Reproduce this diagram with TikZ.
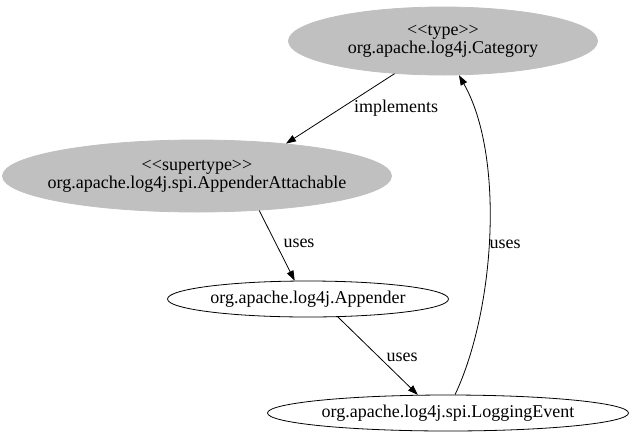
\documentclass[tikz,border=0pt]{standalone}
\usepackage{fontspec}
\setmainfont{Liberation Serif}
\usetikzlibrary{shapes.geometric,arrows.meta}
\begin{document}
\begin{tikzpicture}[x=1pt,y=-1pt,
  every node/.style={font=\fontsize{18}{18}\selectfont},
  cls/.style={ellipse,inner sep=0pt,inner xsep=-12pt,align=center,draw=black,line width=0.8pt},
  super/.style={cls,fill={rgb,255:red,192;green,192;blue,192},draw={rgb,255:red,192;green,192;blue,192}},
  edge/.style={draw=black,line width=0.8pt,-{Triangle[length=10pt,width=7pt]}},
  lbl/.style={inner sep=0pt}]
\useasboundingbox (0,0) rectangle (631,445);
\node[super,minimum width=309pt,minimum height=68pt] (cat) at (443,41) {{<}{<}type{>}{>}\\org.apache.log4j.Category};
\node[super,minimum width=389pt,minimum height=72pt] (aa) at (197,176) {{<}{<}supertype{>}{>}\\org.apache.log4j.spi.AppenderAttachable};
\node[cls,minimum width=281pt,minimum height=36pt] (ap) at (308,299) {org.apache.log4j.Appender};
\node[cls,minimum width=361pt,minimum height=36pt] (le) at (448,413) {org.apache.log4j.spi.LoggingEvent};
\draw[edge] (cat.214) -- (aa.20);
\node[lbl] (l1) at (396,108) {implements};
\draw[edge] (aa.-29) -- (ap.126);
\node[lbl] (l2) at (299,243) {uses};
\draw[edge] (ap.-31) -- (le.149);
\node[lbl] (l3) at (402,357) {uses};
\draw[edge] (le.69) .. controls (495,310) and (505,156) .. (cat.-65);
\node[lbl] (l4) at (505,244) {uses};
\end{tikzpicture}
\end{document}
